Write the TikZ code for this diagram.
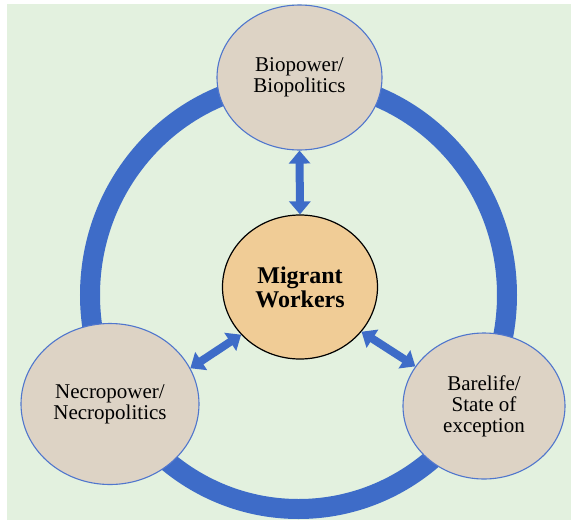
\documentclass[tikz,border=0pt]{standalone}
\usepackage{fontspec}
\setmainfont{Liberation Serif}
\usetikzlibrary{shapes.geometric,arrows.meta}
\definecolor{bgmint}{RGB}{227,241,223}
\definecolor{ringblue}{RGB}{62,108,200}
\definecolor{edgeblue}{RGB}{80,118,205}
\definecolor{sand}{RGB}{221,211,197}
\definecolor{tan}{RGB}{240,204,150}
\tikzset{
  concept/.style={ellipse, draw=edgeblue, line width=1.1pt, fill=sand,
    inner sep=0pt, align=center, font=\fontsize{21}{21}\selectfont},
  core/.style={ellipse, draw=black, line width=1.2pt, fill=tan,
    inner sep=0pt, align=center, font=\fontsize{24}{24}\selectfont\bfseries},
  link/.style={draw=ringblue, line width=8pt,
    {Triangle[width=21pt,length=13pt]}-{Triangle[width=21pt,length=13pt]}},
  ring/.style={draw=ringblue, line width=20pt}
}
\begin{document}
\begin{tikzpicture}[x=1pt,y=-1pt]
  % page and tinted panel
  \fill[white] (0,0) rectangle (571,523);
  \fill[bgmint] (7,4) rectangle (571,520);
  \useasboundingbox (0,0) rectangle (571,523);

  % the cycle joining the three concepts
  \draw[ring] (298.5,295) ellipse [x radius=208.5, y radius=214];

  % concept nodes
  \node[concept, minimum width=165pt, minimum height=145pt] (bio) at (299.5,77.5)
    {Biopower/\\Biopolitics};
  \node[concept, minimum width=178pt, minimum height=161pt] (necro) at (110,404)
    {Necropower/\\Necropolitics};
  \node[concept, minimum width=162pt, minimum height=146pt] (bare) at (484,406)
    {Barelife/\\State of\\exception};
  \node[core, minimum width=155pt, minimum height=144pt] (mw) at (300,287)
    {Migrant\\Workers};

  % two-way links to the centre
  \draw[link] (bio.south) -- (mw.north);
  \draw[link] (mw.219) -- (necro.24);
  \draw[link] (mw.-36) -- (bare.150);
\end{tikzpicture}
\end{document}
